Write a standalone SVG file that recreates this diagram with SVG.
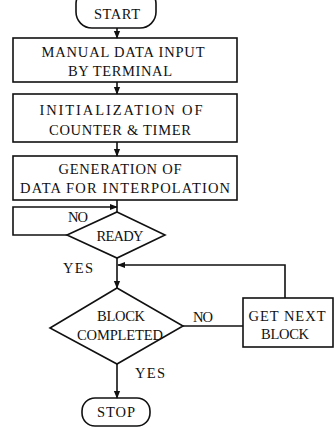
<svg xmlns="http://www.w3.org/2000/svg" width="336" height="428" viewBox="0 0 336 428">
<style>
.s{fill:none;stroke:#111;stroke-width:1.6}
.t{font-family:"Liberation Serif","Times New Roman",serif;font-size:14.5px;fill:#111;text-anchor:middle}
</style>
<defs>
<marker id="a" viewBox="0 0 10 10" refX="9" refY="5" markerWidth="5" markerHeight="5" orient="auto"><path d="M0,1 L10,5 L0,9 z" fill="#111"/></marker>
</defs>
<rect width="336" height="428" fill="#fff"/>
<g id="connectors" class="s">
<line x1="117" y1="28" x2="117" y2="38" marker-end="url(#a)"/>
<line x1="117" y1="82" x2="117" y2="94" marker-end="url(#a)"/>
<line x1="117" y1="142" x2="117" y2="156" marker-end="url(#a)"/>
<line x1="117" y1="200" x2="117" y2="212"/>
<polyline points="67,235 13,235 13,207 117,207" marker-end="url(#a)"/>
<line x1="117" y1="258" x2="117" y2="288" marker-end="url(#a)"/>
<polyline points="285,298 285,265 118,265" marker-end="url(#a)"/>
<line x1="183" y1="326" x2="243" y2="326"/>
<line x1="117" y1="364" x2="117" y2="398" marker-end="url(#a)"/>
</g>
<g id="start"><rect class="s" x="76" y="-12" width="80" height="40" rx="16"/><text class="t" x="117" y="19" textLength="46" lengthAdjust="spacing">START</text></g>
<g id="input"><rect class="s" x="13" y="38" width="224" height="44"/><text class="t" x="123" y="57" textLength="163" lengthAdjust="spacing">MANUAL DATA INPUT</text><text class="t" x="120" y="76" textLength="104" lengthAdjust="spacing">BY TERMINAL</text></g>
<g id="init"><rect class="s" x="13" y="94" width="224" height="48"/><text class="t" x="121" y="115" textLength="163" lengthAdjust="spacing">INITIALIZATION OF</text><text class="t" x="120" y="135" textLength="142" lengthAdjust="spacing">COUNTER &amp; TIMER</text></g>
<g id="gen"><rect class="s" x="13" y="156" width="224" height="44"/><text class="t" x="120" y="174" textLength="123" lengthAdjust="spacing">GENERATION OF</text><text class="t" x="125" y="193" textLength="210" lengthAdjust="spacing">DATA FOR INTERPOLATION</text></g>
<g id="ready"><polygon class="s" points="117,212 165,235 117,258 67,235"/><text class="t" x="120" y="241" textLength="47" lengthAdjust="spacing">READY</text></g>
<g id="block"><polygon class="s" points="117,288 183,326 117,364 50,328"/><text class="t" x="121" y="321" textLength="48" lengthAdjust="spacing">BLOCK</text><text class="t" x="120" y="340" textLength="86" lengthAdjust="spacing">COMPLETED</text></g>
<g id="next"><rect class="s" x="243" y="298" width="90" height="49"/><text class="t" x="287" y="321" textLength="77" lengthAdjust="spacing">GET NEXT</text><text class="t" x="285" y="339" textLength="48" lengthAdjust="spacing">BLOCK</text></g>
<g id="stop"><rect class="s" x="82" y="398" width="68" height="28" rx="13"/><text class="t" x="116" y="417" textLength="38" lengthAdjust="spacing">STOP</text></g>
<g id="labels">
<text class="t" x="78" y="222" textLength="20" lengthAdjust="spacing">NO</text>
<text class="t" x="78" y="273" textLength="30" lengthAdjust="spacing">YES</text>
<text class="t" x="203" y="322" textLength="20" lengthAdjust="spacing">NO</text>
<text class="t" x="150" y="378" textLength="30" lengthAdjust="spacing">YES</text>
</g>
</svg>
